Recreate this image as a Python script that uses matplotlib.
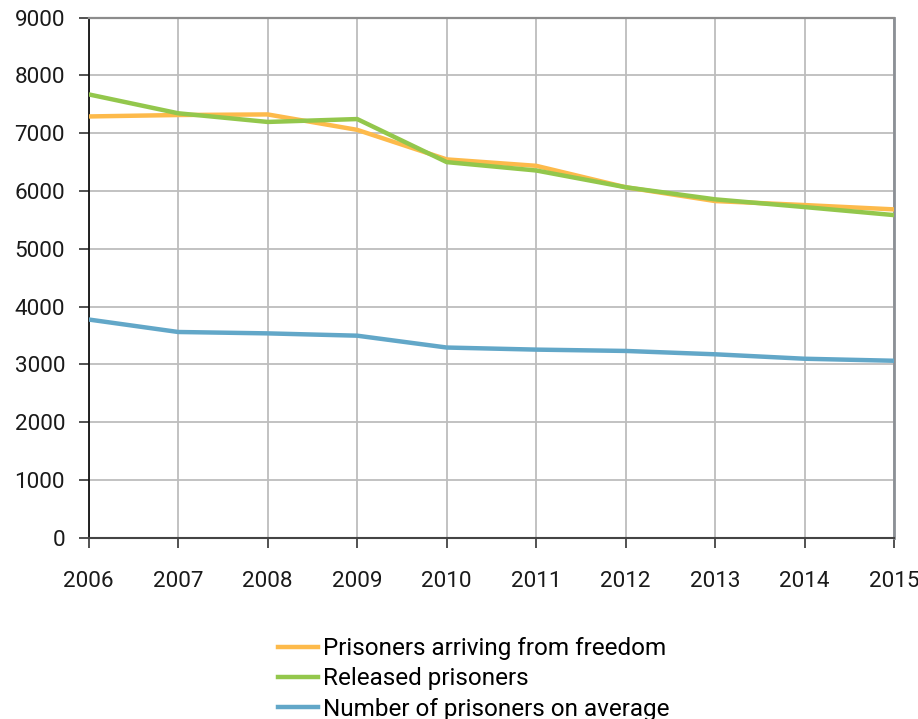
import matplotlib
matplotlib.use('Agg')
import matplotlib.pyplot as plt
from matplotlib.lines import Line2D

plt.rcParams['font.family'] = ['Roboto', 'DejaVu Sans']

years = [2006, 2007, 2008, 2009, 2010, 2011, 2012, 2013, 2014, 2015]
arriving = [7290, 7315, 7325, 7058, 6547, 6436, 6065, 5826, 5757, 5682]
released = [7672, 7345, 7195, 7245, 6500, 6355, 6065, 5856, 5722, 5583]
average = [3777, 3561, 3537, 3497, 3292, 3256, 3233, 3175, 3098, 3063]

labels = ['Prisoners arriving from freedom', 'Released prisoners',
          'Number of prisoners on average']
colors = ['#FDBA4B', '#93C74C', '#62A7C8']

fig = plt.figure(figsize=(9.18, 7.19), dpi=100)
ax = fig.add_axes([0.0966, 0.252, 0.8775, 0.7235])

for vals, col in zip([arriving, released, average], colors):
    ax.plot(years, vals, color=col, lw=3.2, solid_joinstyle='round',
            solid_capstyle='butt', zorder=3)

ax.set_xlim(2006, 2015)
ax.set_ylim(0, 9000)
ax.set_xticks(years)
ax.set_yticks(range(0, 9001, 1000))
ax.grid(True, color='#BDBDBD', lw=1.3, zorder=1)
ax.set_axisbelow(True)

ax.spines['left'].set_color('#111111')
ax.spines['left'].set_linewidth(1.3)
ax.spines['bottom'].set_color('#444444')
ax.spines['bottom'].set_linewidth(1.5)
ax.spines['top'].set_color('#8C8C8C')
ax.spines['top'].set_linewidth(1.6)
ax.spines['right'].set_color('#8C9096')
ax.spines['right'].set_linewidth(2.0)

ax.tick_params(axis='both', direction='out', length=7, width=1.2,
               color='#333333', labelsize=16.2, labelcolor='#1a1a1a')
ax.tick_params(axis='x', pad=17)
ax.tick_params(axis='y', pad=10)

handles = [Line2D([0], [0], color=c, lw=3.2) for c in colors]
fig.legend(handles, labels, loc='upper left', bbox_to_anchor=(0.303, 0.114),
           frameon=False, fontsize=17.5, handlelength=1.65, handletextpad=0.2,
           labelspacing=0.3, borderpad=0, borderaxespad=0)

fig.savefig('out.png', dpi=100, facecolor='white')
